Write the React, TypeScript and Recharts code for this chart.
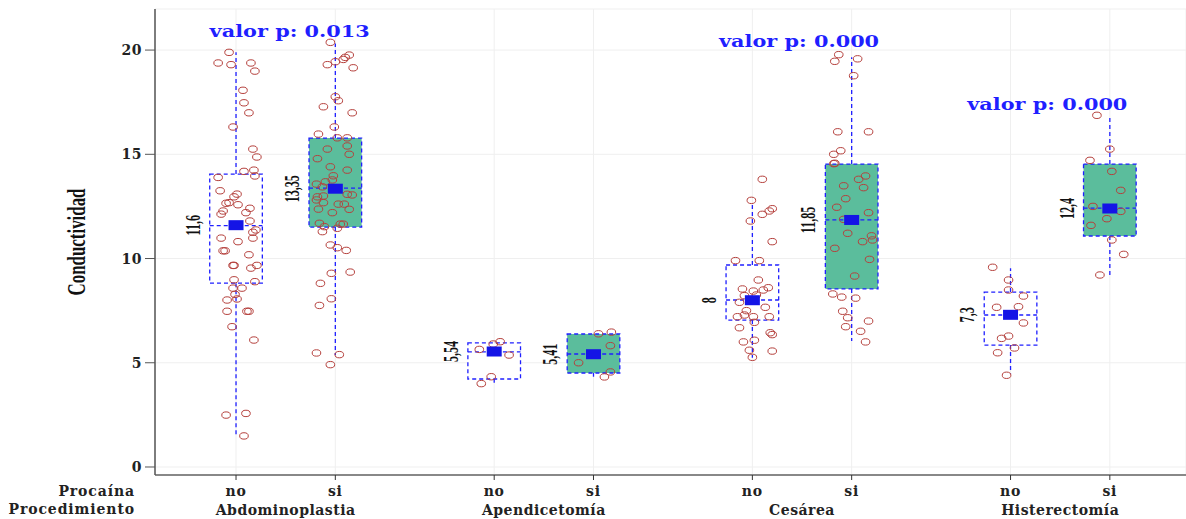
import {
  ComposedChart,
  Scatter,
  XAxis,
  YAxis,
  CartesianGrid,
  ReferenceArea,
  ReferenceLine,
} from "recharts";

const procedimientos = ["Abdominoplastia", "Apendicetomía", "Cesárea", "Histerectomía"];
const procaina = ["no", "si"];

// cajas en orden: abdo-no, abdo-si, apen-no, apen-si, ces-no, ces-si, hist-no, hist-si
const q1 = [8.82, 11.51, 4.22, 4.51, 7.05, 8.54, 5.85, 11.08];
const q3 = [14.05, 15.78, 5.95, 6.38, 9.69, 14.53, 8.39, 14.53];
const medianas = [11.58, 13.38, 5.52, 5.42, 8.01, 11.85, 7.29, 12.42];
const medias = [11.6, 13.35, 5.54, 5.41, 8, 11.85, 7.3, 12.4];
const etiquetas = ["11,6", "13,35", "5,54", "5,41", "8", "11,85", "7,3", "12,4"];
const bigoteMin = [1.49, 5.37, 4.04, 4.33, 5.24, 6.04, 4.49, 9.21];
const bigoteMax = [19.9, 20.32, 5.95, 6.38, 12.68, 19.65, 9.53, 16.83];

const pValores = ["valor p: 0.013", "valor p: 0.000", "valor p: 0.000"];
const pAncla = [
  { x: 0.54, y: 20.91 },
  { x: 5.67, y: 20.4 },
  { x: 8.17, y: 17.41 },
];

// observaciones: [desplazamiento horizontal (jitter), conductividad]
const abdoNo: [number, number][] = [
  [-0.07, 19.89], [-0.18, 19.38], [-0.05, 19.3], [0.15, 19.38], [0.19, 18.99],
  [0.07, 18.07], [0.08, 17.47], [0.13, 16.99], [-0.03, 16.31], [0.17, 15.25],
  [0.21, 14.87], [0.08, 14.18], [0.18, 14.24], [-0.18, 13.89], [0.19, 13.96],
  [-0.16, 13.25], [0.01, 13.09], [-0.02, 12.96], [-0.07, 12.68], [-0.1, 12.65],
  [0.02, 12.58], [0.14, 12.41], [-0.13, 12.28], [-0.15, 12.13], [0.1, 12.2],
  [0.14, 11.8], [0.2, 11.37], [0.17, 11.26], [-0.15, 10.98], [0.02, 10.81],
  [0.17, 10.98], [-0.11, 10.37], [-0.13, 10.37], [0.13, 10.18], [-0.03, 9.67],
  [-0.02, 9.67], [0.15, 9.54], [0.21, 9.67], [-0.02, 8.98], [0.19, 8.89],
  [0.06, 8.58], [-0.03, 8.58], [-0.01, 8.28], [-0.09, 8.01], [0.01, 8.06],
  [-0.09, 7.47], [0.13, 7.47], [0.11, 7.47], [-0.04, 6.73], [0.18, 6.09],
  [-0.1, 2.49], [0.1, 2.57], [0.08, 1.49],
];
const abdoSi: [number, number][] = [
  [-0.05, 20.37], [-0.08, 19.3], [0.0, 19.44], [0.08, 19.55], [0.14, 19.76],
  [0.1, 19.65], [0.18, 19.15], [0.0, 17.76], [0.03, 17.57], [-0.12, 17.28],
  [0.17, 16.99], [-0.01, 16.31], [-0.17, 15.97], [0.02, 15.79], [0.12, 15.79],
  [-0.08, 15.25], [0.12, 15.4], [0.14, 15.0], [-0.18, 14.79], [-0.05, 14.4],
  [0.12, 14.24], [-0.02, 13.97], [-0.19, 13.57], [-0.1, 13.68], [-0.03, 13.77],
  [-0.13, 13.44], [-0.18, 12.96], [-0.12, 13.0], [0.12, 13.08], [0.17, 13.05],
  [-0.19, 12.81], [0.09, 12.61], [-0.12, 12.68], [0.03, 12.61], [-0.17, 12.37],
  [0.14, 12.36], [-0.03, 12.2], [-0.16, 11.69], [0.05, 11.65], [0.08, 11.65],
  [-0.11, 11.53], [-0.13, 11.29], [0.02, 11.45], [-0.05, 10.65], [0.02, 10.52],
  [0.11, 10.39], [-0.04, 9.29], [0.15, 9.35], [-0.15, 8.81], [-0.04, 8.07],
  [-0.16, 7.75], [-0.19, 5.47], [0.04, 5.39], [-0.05, 4.91],
];
const apenNo: [number, number][] = [
  [0.06, 6.01], [-0.01, 5.9], [-0.15, 5.64], [0.15, 5.37], [-0.03, 4.33], [-0.13, 4.0],
];
const apenSi: [number, number][] = [
  [0.05, 6.39], [0.18, 6.47], [0.17, 5.82], [-0.15, 5.0], [0.17, 4.56], [0.11, 4.32],
];
const cesNo: [number, number][] = [
  [0.1, 13.8], [-0.01, 12.79], [0.1, 12.12], [0.17, 12.28], [0.2, 12.39],
  [-0.02, 11.8], [0.2, 10.81], [-0.17, 9.9], [0.07, 9.9], [0.06, 8.97],
  [-0.1, 8.54], [0.01, 8.44], [0.11, 8.49], [0.16, 8.6], [-0.08, 8.22],
  [0.04, 8.25], [-0.13, 7.9], [0.13, 7.66], [-0.06, 7.5], [-0.08, 7.29],
  [-0.15, 7.21], [0.01, 7.21], [0.17, 7.21], [0.02, 6.94], [-0.13, 6.68],
  [0.18, 6.44], [0.2, 6.35], [-0.09, 6.0], [0.02, 6.08], [-0.03, 5.6],
  [0.2, 5.56], [0.0, 5.26],
];
const cesSi: [number, number][] = [
  [-0.13, 19.78], [-0.17, 19.46], [0.06, 19.58], [0.02, 18.77], [-0.14, 16.08],
  [0.17, 16.08], [-0.11, 15.17], [-0.18, 15.0], [-0.17, 14.57], [-0.18, 14.55],
  [0.14, 13.96], [0.07, 13.8], [-0.08, 13.49], [0.12, 13.4], [-0.06, 12.87],
  [-0.15, 12.46], [0.17, 12.2], [-0.08, 11.88], [-0.04, 11.21], [0.2, 11.09],
  [0.21, 10.89], [0.11, 10.81], [-0.17, 10.49], [0.18, 9.96], [0.03, 9.16],
  [-0.19, 8.3], [-0.1, 8.15], [0.04, 8.1], [-0.09, 7.47], [-0.04, 7.16],
  [0.17, 7.0], [-0.06, 6.73], [0.09, 6.51], [0.14, 6.0],
];
const histNo: [number, number][] = [
  [-0.18, 9.58], [-0.02, 8.97], [-0.02, 8.49], [0.13, 8.2], [-0.14, 7.66],
  [0.08, 7.69], [0.13, 6.91], [-0.02, 6.28], [-0.09, 6.17], [0.04, 5.71],
  [-0.13, 5.48], [-0.04, 4.4],
];
const histSi: [number, number][] = [
  [-0.13, 16.87], [0.0, 15.25], [-0.2, 14.71], [0.02, 14.18], [0.11, 13.27],
  [-0.17, 12.5], [0.11, 12.26], [-0.03, 11.91], [-0.19, 11.59], [0.02, 10.89],
  [0.14, 10.2], [-0.1, 9.21],
];

const grupos = [abdoNo, abdoSi, apenNo, apenSi, cesNo, cesSi, histNo, histSi];

// posicion de cada caja en el eje x (dos cajas por procedimiento)
const POS = [0, 1, 2.6, 3.6, 5.2, 6.2, 7.8, 8.8];
const CENTROS = [0.5, 3.1, 5.7, 8.3];
const MITAD = 0.265;
const DOM_X: [number, number] = [-0.816, 9.567];
const DOM_Y: [number, number] = [-0.384, 21.97];

const AZUL = "#1f1fff";
const VERDE = "#5bbd9c";
const SERIF = "'DejaVu Serif', serif";
const TIMES = "'Liberation Serif', serif";

const puntos = grupos.flatMap((g, i) => g.map(([j, v]) => ({ x: POS[i] + j, y: v })));
const mediasData = medias.map((m, i) => ({ x: POS[i], y: m }));
const etiquetasData = etiquetas.map((t, i) => ({ x: POS[i] - MITAD, y: medias[i], t }));
const pData = pValores.map((t, i) => ({ ...pAncla[i], t }));
const procData = CENTROS.map((x) => ({ x, y: 0 }));

const Circulo = (p: any) => (
  <ellipse cx={p.cx} cy={p.cy} rx={4.3} ry={3.2} fill="none" stroke="#b5403c" strokeWidth={1} />
);

const Cuadro = (p: any) => (
  <rect x={p.cx - 7.5} y={p.cy - 5} width={15} height={10} fill="#1414e6" />
);

const Nada = () => <g />;

const EtiquetaMediana = (p: any) => (
  <text
    transform={`translate(${p.cx - 10},${p.cy}) rotate(-90) scale(0.55,1)`}
    textAnchor="middle"
    fontFamily={TIMES}
    fontWeight="bold"
    fontSize={22}
    fill="#111"
  >
    {p.payload.t}
  </text>
);

const PValor = (p: any) => (
  <text
    transform={`translate(${p.cx},${p.cy}) scale(1.3,1)`}
    textAnchor="middle"
    dominantBaseline="central"
    fontFamily={SERIF}
    fontWeight="bold"
    fontSize={16}
    fill={AZUL}
  >
    {p.payload.t}
  </text>
);

const EtiquetaY = ({ viewBox }: any) => {
  const vb = viewBox ?? { x: 0, y: 9, width: 155, height: 466 };
  return (
    <text
      transform={`translate(85,${vb.y + vb.height / 2}) rotate(-90) scale(0.65,1)`}
      textAnchor="middle"
      fontFamily={TIMES}
      fontWeight="bold"
      fontSize={26}
      fill="#111"
    >
      Conductividad
    </text>
  );
};

const EtiquetaFila = ({ viewBox, texto, dy }: any) => {
  const vb = viewBox ?? { x: 155, y: 475 };
  return (
    <text
      x={vb.x - 20}
      y={vb.y + dy}
      textAnchor="end"
      fontFamily={SERIF}
      fontWeight="bold"
      fontSize={14}
      letterSpacing={0.9}
      fill="#222"
    >
      {texto}
    </text>
  );
};

const tickStyle = { fontFamily: SERIF, fontSize: 14, fontWeight: "bold", fill: "#222" };

export default function App() {
  return (
    <div style={{ position: "absolute", left: 0, top: 0, width: 1186, height: 519, background: "#fff" }}>
      <ComposedChart width={1186} height={519} margin={{ top: 9, right: 0, bottom: 0, left: 0 }}>
        <CartesianGrid stroke="#efefef" />
        <XAxis
          xAxisId="top"
          orientation="top"
          type="number"
          domain={DOM_X}
          allowDataOverflow
          height={0}
          tick={false}
          tickLine={false}
          axisLine={{ stroke: "#555", strokeWidth: 1.5 }}
        />
        <XAxis
          dataKey="x"
          type="number"
          domain={DOM_X}
          allowDataOverflow
          ticks={POS}
          interval={0}
          tickFormatter={(v: number) => procaina[POS.indexOf(v) % 2]}
          height={24}
          tickSize={5}
          tickMargin={6}
          tick={{ ...tickStyle, letterSpacing: 0.8 }}
          axisLine={{ stroke: "#888", strokeWidth: 2 }}
          tickLine={{ stroke: "#333" }}
          label={<EtiquetaFila texto="Procaína" dy={21} />}
        />
        <XAxis
          xAxisId="proc"
          dataKey="x"
          type="number"
          domain={DOM_X}
          allowDataOverflow
          ticks={CENTROS}
          interval={0}
          tickFormatter={(v: number) => procedimientos[CENTROS.indexOf(v)]}
          height={20}
          tickSize={0}
          tickMargin={6}
          tick={{ ...tickStyle, letterSpacing: 0.5 }}
          axisLine={false}
          tickLine={false}
          label={<EtiquetaFila texto="Procedimiento" dy={15} />}
        />
        <YAxis
          type="number"
          domain={DOM_Y}
          allowDataOverflow
          ticks={[0, 5, 10, 15, 20]}
          interval={0}
          width={155}
          tickSize={10}
          tickMargin={3}
          tick={{ ...tickStyle, letterSpacing: 0.5 }}
          axisLine={{ stroke: "#555", strokeWidth: 1.5 }}
          tickLine={{ stroke: "#555" }}
          label={<EtiquetaY />}
        />

        {POS.map((x, i) => (
          <ReferenceArea
            key={`caja-${i}`}
            x1={x - MITAD}
            x2={x + MITAD}
            y1={q1[i]}
            y2={q3[i]}
            fill={i % 2 === 1 ? VERDE : "#fff"}
            fillOpacity={1}
            stroke={AZUL}
            strokeWidth={1.3}
            strokeDasharray="4 3"
          />
        ))}
        {POS.map((x, i) => (
          <ReferenceLine
            key={`bs-${i}`}
            segment={[{ x, y: q3[i] }, { x, y: bigoteMax[i] }]}
            stroke={AZUL}
            strokeWidth={1.3}
            strokeDasharray="4 3"
          />
        ))}
        {POS.map((x, i) => (
          <ReferenceLine
            key={`bi-${i}`}
            segment={[{ x, y: q1[i] }, { x, y: bigoteMin[i] }]}
            stroke={AZUL}
            strokeWidth={1.3}
            strokeDasharray="4 3"
          />
        ))}
        {POS.map((x, i) => (
          <ReferenceLine
            key={`med-${i}`}
            segment={[{ x: x - MITAD, y: medianas[i] }, { x: x + MITAD, y: medianas[i] }]}
            stroke={AZUL}
            strokeWidth={1.3}
            strokeDasharray="4 3"
          />
        ))}

        <Scatter xAxisId="proc" data={procData} dataKey="y" shape={Nada} isAnimationActive={false} />
        <Scatter data={puntos} dataKey="y" shape={Circulo} isAnimationActive={false} />
        <Scatter data={mediasData} dataKey="y" shape={Cuadro} isAnimationActive={false} />
        <Scatter data={etiquetasData} dataKey="y" shape={EtiquetaMediana} isAnimationActive={false} />
        <Scatter data={pData} dataKey="y" shape={PValor} isAnimationActive={false} />
      </ComposedChart>
    </div>
  );
}
